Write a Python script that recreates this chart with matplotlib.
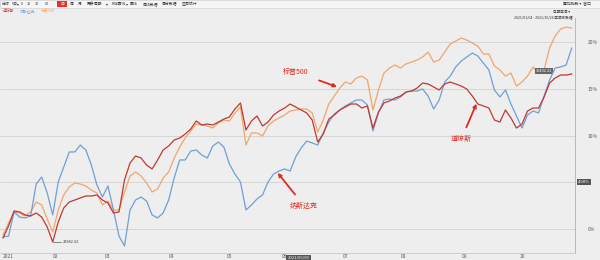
import numpy as np
import matplotlib
matplotlib.use("Agg")
import matplotlib.pyplot as plt
from matplotlib.patches import Rectangle
from matplotlib.transforms import blended_transform_factory

plt.rcParams['font.family'] = ['Noto Sans CJK SC', 'DejaVu Sans']

# cumulative return since 2021-01-04 (%), one value every 2 trading days
dow = [-0.96, 0.32, 1.93, 1.82, 1.50, 1.39, 1.71, 1.28, 0.21, -1.39,
       0.75, 2.25, 2.89, 3.10, 3.32, 3.53, 3.53, 3.64, 3.10, 2.78,
       1.71, 1.82, 5.24, 7.06, 7.81, 7.59, 6.84, 6.42, 7.38, 8.45,
       8.88, 9.52, 9.73, 10.16, 10.70, 11.55, 11.12, 11.23, 11.12, 11.44,
       11.76, 11.98, 12.83, 13.48, 10.59, 11.55, 12.09, 11.02, 11.44, 12.19,
       12.62, 12.94, 13.37, 13.05, 12.73, 12.41, 11.66, 9.30, 10.16, 11.76,
       12.19, 12.73, 13.05, 13.37, 13.37, 12.94, 13.16, 10.80, 12.51, 13.48,
       13.69, 14.01, 14.22, 14.65, 14.76, 15.08, 15.61, 15.51, 15.19, 14.87,
       15.51, 15.72, 15.51, 15.29, 14.97, 14.22, 13.37, 13.16, 12.94, 11.66,
       11.44, 12.73, 11.87, 10.80, 11.23, 12.62, 12.94, 12.94, 14.12, 15.61,
       16.15, 16.47, 16.47, 16.58]
nasdaq = [-0.86, -0.75, 1.82, 1.28, 1.18, 1.39, 4.81, 5.56, 3.85, 1.50,
          5.03, 6.63, 8.24, 8.24, 8.98, 8.45, 6.84, 4.71, 3.42, 4.60,
          2.03, -0.75, -1.82, 2.03, 3.10, 3.42, 2.99, 1.50, 1.18, 1.71,
          3.10, 5.45, 7.38, 7.38, 8.34, 8.45, 7.91, 7.59, 8.88, 9.30,
          8.77, 6.95, 5.88, 5.03, 2.03, 2.57, 3.21, 3.64, 5.03, 5.88,
          6.20, 6.42, 6.20, 7.70, 8.66, 9.41, 9.20, 8.98, 10.27, 11.44,
          12.30, 12.73, 13.16, 13.48, 13.80, 13.80, 13.26, 10.48, 12.41, 13.80,
          13.90, 13.80, 14.12, 14.65, 14.76, 14.76, 14.97, 14.22, 12.83, 13.80,
          15.72, 16.36, 17.33, 17.97, 18.40, 18.82, 18.50, 17.75, 17.01, 14.87,
          14.12, 14.87, 13.37, 12.09, 10.80, 12.19, 12.62, 12.41, 14.22, 15.94,
          17.22, 17.33, 17.54, 19.36]
sp500 = [-0.64, 0.64, 1.82, 1.71, 1.39, 1.82, 2.89, 2.57, 1.07, -0.32,
         2.03, 3.64, 4.49, 4.92, 4.81, 4.60, 4.17, 3.85, 2.57, 2.99,
         2.03, 2.03, 3.96, 5.67, 6.10, 5.67, 4.92, 3.96, 4.28, 5.45,
         6.10, 7.59, 8.77, 9.73, 10.48, 11.23, 11.12, 11.02, 10.80, 11.34,
         11.66, 11.55, 12.41, 13.05, 8.98, 10.27, 10.27, 9.95, 11.02, 11.55,
         11.87, 12.19, 12.62, 12.73, 12.83, 12.83, 12.41, 10.37, 11.66, 13.37,
         14.22, 15.08, 15.72, 15.51, 16.15, 16.36, 15.94, 12.73, 14.87, 16.68,
         17.22, 17.54, 17.22, 17.65, 17.86, 18.07, 18.40, 18.93, 17.86, 18.07,
         18.93, 19.79, 20.11, 20.43, 20.21, 19.89, 19.57, 18.72, 18.72, 17.43,
         17.01, 16.36, 16.68, 15.29, 15.72, 16.36, 17.33, 16.58, 17.01, 19.36,
         20.64, 21.39, 21.60, 21.49]

# month starts in trading days since 2021-01-04
month_pos = [0, 19, 38, 61, 82, 102, 124, 145, 167, 188]
month_lbl = ['2021', '02', '03', '04', '05', '06', '07', '08', '09', '10']
y_ticks = [0, 5, 10, 15, 20]

names = ['道琼斯', '纳斯达克', '标普500']
c_dow, c_nas, c_sp = '#c0392f', '#6f9fd6', '#f2a56a'
bg = '#eeeeee'

fig = plt.figure(figsize=(6, 2.6), dpi=100)
fig.patch.set_facecolor(bg)
ax = fig.add_axes([0.0, 7 / 260, 575 / 600, (253 - 18) / 260])
ax.set_facecolor(bg)

x_dow = np.arange(len(dow)) * 2
x_nas = np.arange(len(nasdaq)) * 2
x_sp = np.arange(len(sp500)) * 2
ax.plot(x_sp, sp500, color=c_sp, lw=0.9, zorder=3)
ax.plot(x_nas, nasdaq, color=c_nas, lw=0.9, zorder=4)
ax.plot(x_dow, dow, color=c_dow, lw=0.9, zorder=5)

ax.set_xlim(-1.1, 207.2)
ax.set_ylim(-2.57, 22.57)
ax.set_xticks(month_pos)
ax.set_xticklabels(month_lbl)
ax.get_xticklabels()[0].set_horizontalalignment('left')
ax.set_yticks(y_ticks)
ax.set_yticklabels([f'{v}%' if v != 5 else '' for v in y_ticks])
ax.yaxis.tick_right()
ax.tick_params(axis='x', labelsize=3.5, pad=0.5, length=0, colors='#555555')
ax.tick_params(axis='y', labelsize=3.5, pad=9, length=0, colors='#555555')
ax.grid(axis='y', color='#d2d2d2', lw=0.6)
for s in ['top', 'left']:
    ax.spines[s].set_visible(False)
ax.spines['right'].set_color('#b0b0b0')
ax.spines['bottom'].set_color('#c8c8c8')
ax.spines['right'].set_linewidth(0.6)
ax.spines['bottom'].set_linewidth(0.6)

# value boxes on axes
ax.text(1.005, 5, '4.98%', transform=blended_transform_factory(ax.transAxes, ax.transData),
        fontsize=3, color='white', va='center', ha='left',
        bbox=dict(boxstyle='square,pad=0.3', fc='#555555', ec='none'))
ax.text(107, -0.012, '2021/06/09', transform=blended_transform_factory(ax.transData, ax.transAxes),
        fontsize=3, color='white', va='top', ha='center',
        bbox=dict(boxstyle='square,pad=0.3', fc='#555555', ec='none'))

# min / last labels
ax.plot([18, 21], [dow[9], dow[9]], color='#333333', lw=0.4)
ax.text(21.5, dow[9], '29982.62', fontsize=2.8, color='#333333', va='center')
ax.text(196, 16.9, '36432.22', fontsize=2.8, color='white', va='center', ha='center',
        bbox=dict(boxstyle='square,pad=0.25', fc='#666666', ec='none'))

# red annotations
red = '#e02a22'
ax.annotate('标普500', xy=(121, 15.2), xytext=(106, 16.8), fontsize=5, color=red,
            ha='center', va='center',
            arrowprops=dict(arrowstyle='-|>', color=red, lw=1.3, mutation_scale=5,
                            shrinkA=6, shrinkB=0))
ax.annotate('纳斯达克', xy=(99.5, 6.0), xytext=(109, 2.5), fontsize=5, color=red,
            ha='center', va='center',
            arrowprops=dict(arrowstyle='-|>', color=red, lw=1.3, mutation_scale=5,
                            shrinkA=4, shrinkB=0))
ax.annotate('道琼斯', xy=(171.5, 13.4), xytext=(166, 9.6), fontsize=5, color=red,
            ha='center', va='center',
            arrowprops=dict(arrowstyle='-|>', color=red, lw=1.3, mutation_scale=5,
                            shrinkA=4, shrinkB=0))

# toolbar on top
fig.add_artist(Rectangle((0, 1 - 8 / 260), 1, 8 / 260, transform=fig.transFigure,
                         fc='#f6f6f6', ec='#cccccc', lw=0.4))
tools = [(2, '分时'), (12, '5日'), (17, '▾'), (21, '5'), (27, '15'), (35, '30'),
         (45, '60'), (70, '周'), (78, '月'), (87, '更多周期'), (106, '▾'),
         (112, 'K线画线'), (126, '▾'), (130, '画线'), (143, '周线数据'),
         (162, '周分数据'), (182, '区间统计')]
for px, t in tools:
    fig.text(px / 600, 1 - 4 / 260, t, fontsize=2.8, color='#333333', va='center')
fig.add_artist(Rectangle((57 / 600, 1 - 7 / 260), 10 / 600, 6 / 260,
                         transform=fig.transFigure, fc='#e8332a', ec='none'))
fig.text(62 / 600, 1 - 4 / 260, '日', fontsize=2.8, color='white', va='center', ha='center')
fig.text(563 / 600, 1 - 4 / 260, '叠加指数 ▾  窗口', fontsize=2.8, color='#333333', va='center')

# legend row
lx = 3
for n, c in zip(names, [c_dow, c_nas, c_sp]):
    fig.text(lx / 600, 1 - 11 / 260, n, fontsize=2.8, color=c, va='center')
    lx += 4.5 * len(n) + 3

# top-right info
fig.text(570 / 600, 1 - 12 / 260, '日期区间 ▾', fontsize=2.6, color='#333333',
         va='center', ha='right')
fig.text(572 / 600, 1 - 17 / 260, '2021/01/04 - 2021/10/26 区间涨跌幅', fontsize=2.6,
         color='#333333', va='center', ha='right')

fig.savefig('out.png', dpi=100, facecolor=fig.get_facecolor())
